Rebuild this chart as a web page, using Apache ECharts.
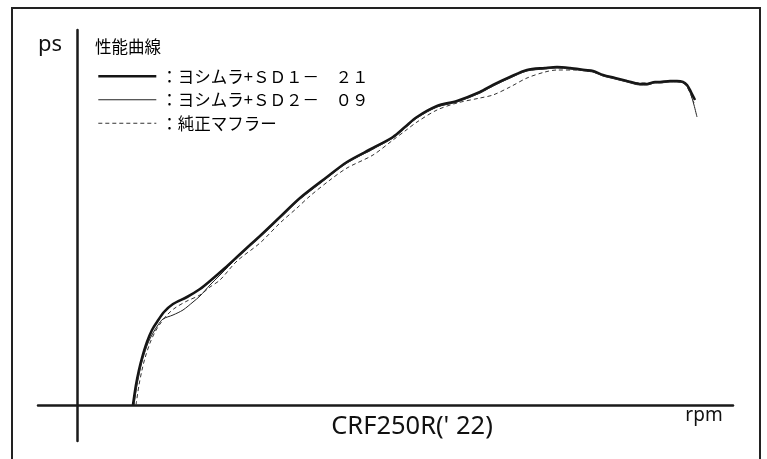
<!DOCTYPE html>
<html>
<head>
<meta charset="utf-8">
<script src="https://cdn.jsdelivr.net/npm/echarts@6/dist/echarts.min.js"></script>
<style>
  html, body { margin: 0; padding: 0; background: #fff; }
  #wrap { position: relative; width: 767px; height: 459px; overflow: hidden; }
  #chart { width: 767px; height: 459px; }
  #frame {
    position: absolute; left: 11px; top: 7px; width: 746px; height: 520px;
    border: 2.5px solid #222; pointer-events: none;
  }
</style>
</head>
<body>
<div id="wrap">
  <div id="chart"></div>
  <div id="frame"></div>
</div>
<script>
// 凡例
const names = ['：ヨシムラ+ＳＤ１－　２１', '：ヨシムラ+ＳＤ２－　０９', '：純正マフラー']

// ヨシムラ+SD1-21
const rpm1 = [1120, 1180, 1240, 1300, 1400, 1500, 1600, 1740, 1920, 2200, 2460, 2660, 2960, 3200, 3460, 3660, 4060, 4460, 5000, 5400, 5920, 6320, 6560, 6800, 7200, 7600, 8060, 8320, 8660, 9000, 9360, 9600, 9860, 10160, 10320, 10520, 10760, 11000, 11260, 11400, 11560, 11660, 11860, 12000, 12120, 12200, 12280, 12360]
const ps1 = [0, 2.0, 3.5, 4.7, 6.3, 7.5, 8.3, 9.3, 10.1, 10.8, 11.6, 12.4, 13.7, 14.8, 16.0, 16.9, 18.8, 20.7, 22.8, 24.3, 25.7, 26.8, 27.8, 28.8, 29.9, 30.4, 31.3, 32.0, 32.8, 33.5, 33.7, 33.8, 33.7, 33.5, 33.4, 33.0, 32.7, 32.4, 32.1, 32.1, 32.3, 32.3, 32.4, 32.4, 32.3, 32.0, 31.3, 30.5]

// ヨシムラ+SD2-09
const rpm2 = [1140, 1200, 1260, 1320, 1420, 1520, 1620, 1720, 1920, 2120, 2320, 2460, 2660, 2860, 3200, 3460, 3660, 4060, 4460, 5000, 5400, 5920, 6320, 6560, 6800, 7200, 7600, 8060, 8320, 8660, 9000, 9360, 9600, 9860, 10160, 10320, 10520, 10760, 11000, 11260, 11400, 11560, 11660, 11860, 12000, 12120, 12200, 12280, 12340, 12400]
const ps2 = [0, 2.0, 3.5, 4.7, 6.2, 7.2, 8.0, 8.6, 9.0, 9.5, 10.3, 10.9, 12.0, 13.0, 14.7, 15.9, 16.8, 18.7, 20.6, 22.7, 24.2, 25.6, 26.7, 27.7, 28.7, 29.8, 30.3, 31.2, 31.9, 32.7, 33.4, 33.6, 33.7, 33.6, 33.4, 33.3, 32.9, 32.6, 32.3, 32.0, 32.0, 32.2, 32.2, 32.3, 32.3, 32.3, 31.9, 31.0, 30.0, 28.8]

// 純正マフラー
const rpm3 = [1180, 1240, 1300, 1360, 1460, 1560, 1660, 1800, 1960, 2200, 2460, 2660, 2860, 3200, 3660, 4060, 4400, 4660, 5060, 5400, 5920, 6320, 6560, 6800, 7200, 7600, 8060, 8320, 8660, 9000, 9360, 9600, 9960, 10320, 10520, 10760, 11000, 11260, 11400, 11560, 11860, 12120, 12200, 12280, 12340]
const ps3 = [0, 2.0, 3.5, 4.7, 6.2, 7.3, 8.1, 9.0, 9.7, 10.4, 11.0, 11.8, 12.5, 14.4, 16.2, 18.2, 19.7, 20.9, 22.5, 23.7, 25.0, 26.5, 27.4, 28.3, 29.5, 30.2, 30.7, 31.0, 31.8, 32.7, 33.3, 33.5, 33.5, 33.3, 33.0, 32.7, 32.4, 32.2, 32.2, 32.3, 32.4, 32.2, 31.8, 31.0, 30.2]

const zip = (xs, ys) => xs.map((x, i) => [x, ys[i]])

const chart = echarts.init(document.getElementById('chart'))
chart.setOption({
  animation: false,
  grid: { left: 38, right: 34, top: 30, bottom: 18 },
  xAxis: {
    type: 'value',
    min: -780,
    max: 13120,
    axisLine: { onZero: true, lineStyle: { color: '#1a1a1a', width: 2.5 } },
    axisTick: { show: false },
    axisLabel: { show: false },
    splitLine: { show: false }
  },
  yAxis: {
    type: 'value',
    min: -3.6,
    max: 37.5,
    axisLine: { show: true, onZero: true, lineStyle: { color: '#1a1a1a', width: 2.5 } },
    axisTick: { show: false },
    axisLabel: { show: false },
    splitLine: { show: false }
  },
  legend: {
    orient: 'vertical',
    left: 92,
    top: 63,
    itemWidth: 58,
    itemHeight: 14,
    itemGap: 7,
    itemStyle: { opacity: 0 },
    textStyle: { fontFamily: 'Noto Sans CJK JP', fontSize: 16.5, color: '#000' },
    data: [
      { name: names[0], lineStyle: { width: 2.6, color: '#151515' } },
      { name: names[1], lineStyle: { width: 1, color: '#222' } },
      { name: names[2], lineStyle: { width: 1, color: '#333', type: [4, 3] } }
    ]
  },
  graphic: [
    { type: 'text', x: 50, y: 45, style: { text: 'ps', font: '22px "Noto Sans"', fill: '#111', align: 'center', verticalAlign: 'middle' } },
    { type: 'text', x: 95, y: 47, style: { text: '性能曲線', font: '16.5px "Noto Sans CJK JP"', fill: '#000', verticalAlign: 'middle' } },
    { type: 'text', x: 704, y: 416, style: { text: 'rpm', font: '19px "Noto Sans"', fill: '#111', align: 'center', verticalAlign: 'middle' } },
    { type: 'text', x: 412, y: 427, scaleX: 0.98, style: { text: "CRF250R(' 22)", font: '26px "Noto Sans"', fill: '#111', align: 'center', verticalAlign: 'middle' } }
  ],
  series: [
    {
      name: names[0],
      type: 'line',
      smooth: 0.3,
      symbol: 'none',
      data: zip(rpm1, ps1),
      lineStyle: { color: '#151515', width: 2.6 },
      itemStyle: { color: '#151515' },
      z: 3
    },
    {
      name: names[1],
      type: 'line',
      smooth: 0.3,
      symbol: 'none',
      data: zip(rpm2, ps2),
      lineStyle: { color: '#222', width: 1 },
      itemStyle: { color: '#222' },
      z: 4
    },
    {
      name: names[2],
      type: 'line',
      smooth: 0.3,
      symbol: 'none',
      data: zip(rpm3, ps3),
      lineStyle: { color: '#333', width: 1, type: [4, 3] },
      itemStyle: { color: '#333' },
      z: 2
    }
  ]
})
</script>
</body>
</html>
